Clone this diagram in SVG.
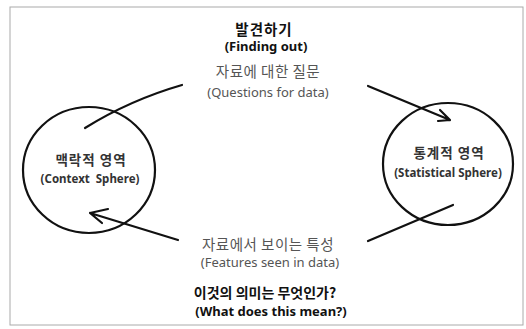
<svg xmlns="http://www.w3.org/2000/svg" width="526" height="329" viewBox="0 0 526 329">
<style>
.ko{font-family:"Noto Sans CJK KR","Noto Sans",sans-serif;text-anchor:middle}
.en{font-family:"Noto Sans","Open Sans",sans-serif;text-anchor:middle}
.b{font-weight:bold;fill:#111}
.g{fill:#555}
.c{font-weight:bold;fill:#333}
.sph{fill:none;stroke:#111;stroke-width:2.2}
.ln{fill:none;stroke:#111;stroke-width:2.2;stroke-linecap:round;stroke-linejoin:round}
</style>
<rect x="10" y="7" width="513" height="318" fill="#fff" stroke="#aaa" stroke-width="1"/>
<g id="title-top">
<text class="ko b" x="264" y="35" font-size="14.5" letter-spacing="1">발견하기</text>
<text class="en b" x="266" y="51" font-size="13">(Finding out)</text>
</g>
<g id="label-questions">
<text class="ko g" x="268" y="77" font-size="14.5" letter-spacing="0.5">자료에 대한 질문</text>
<text class="en g" x="268" y="97" font-size="13">(Questions for data)</text>
</g>
<g id="context-sphere">
<ellipse class="sph" cx="89" cy="170" rx="66" ry="63"/>
<text class="ko c" x="91" y="165" font-size="13.5" letter-spacing="1">맥락적 영역</text>
<text class="en c" x="90" y="183" font-size="11.5" xml:space="preserve">(Context  Sphere)</text>
</g>
<g id="statistical-sphere">
<ellipse class="sph" cx="448" cy="164" rx="65" ry="61"/>
<text class="ko c" x="449" y="158" font-size="13.5" letter-spacing="1">통계적 영역</text>
<text class="en c" x="448" y="177" font-size="11.5">(Statistical Sphere)</text>
</g>
<g id="label-features">
<text class="ko g" x="268" y="250" font-size="14.5" letter-spacing="0.5">자료에서 보이는 특성</text>
<text class="en g" x="270" y="267" font-size="13">(Features seen in data)</text>
</g>
<g id="title-bottom">
<text class="ko b" x="265" y="298" font-size="14">이것의 의미는 무엇인가?</text>
<text class="en b" x="271" y="316" font-size="13">(What does this mean?)</text>
</g>
<g id="connectors">
<path class="ln" d="M85,128 Q130,100 182,85"/>
<path class="ln" d="M368,86 L450,120 M440,110 L450,120 L438,121"/>
<path class="ln" d="M453,205 L368,241"/>
<path class="ln" d="M178,240 L90,213 M108,209 L90,213 L102,223"/>
</g>
</svg>
